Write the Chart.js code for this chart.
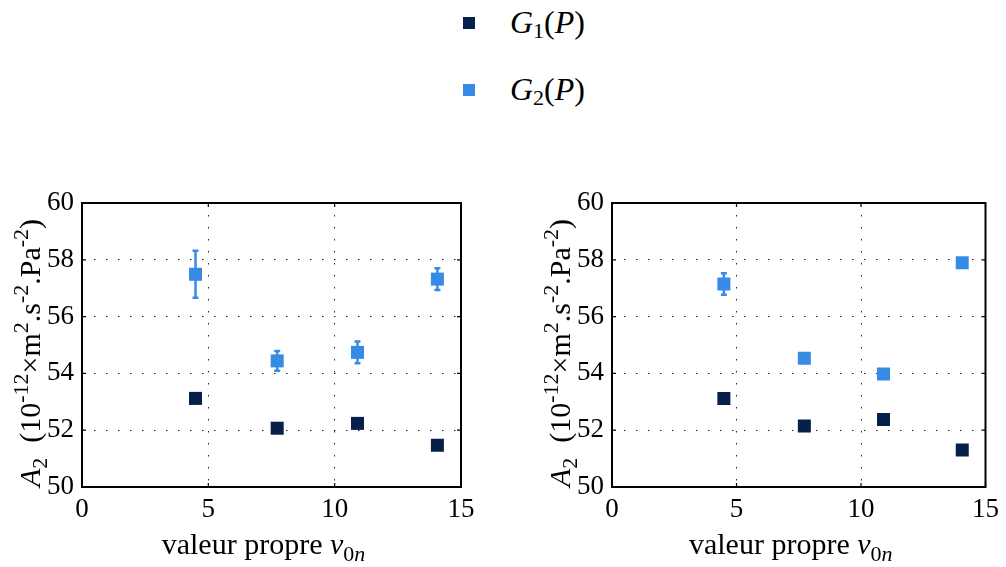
<!DOCTYPE html>
<html>
<head>
<meta charset="utf-8">
<script src="https://cdn.jsdelivr.net/npm/chart.js@4"></script>
<style>
  body { margin: 0; background: #fff; width: 1006px; height: 567px; overflow: hidden; position: relative; }
  .box { position: absolute; top: 0; width: 503px; height: 567px; }
  #legend { position: absolute; left: 0; top: 0; width: 1006px; height: 130px; font-family: "Liberation Serif", "DejaVu Serif", serif; font-size: 32px; }
  .item { position: absolute; left: 463px; height: 40px; }
  .sw { position: absolute; left: 0; width: 12px; height: 12px; }
  .lab { position: absolute; left: 47px; white-space: nowrap; line-height: 1; }
  .lab sub { font-size: 22px; font-style: normal; vertical-align: -5px; }
</style>
</head>
<body>
<div id="legend">
  <div class="item" style="top:17px"><div class="sw" style="background:#06204a;top:0"></div><div class="lab" style="top:-11px"><i>G</i><sub>1</sub>(<i>P</i>)</div></div>
  <div class="item" style="top:84px"><div class="sw" style="background:#368ce5;top:0"></div><div class="lab" style="top:-11px"><i>G</i><sub>2</sub>(<i>P</i>)</div></div>
</div>
<div class="box" style="left:0"><canvas id="left"></canvas></div>
<div class="box" style="left:503px"><canvas id="right"></canvas></div>
<script>
// eigenvalues nu_0n (x positions)
const nu = [4.493, 7.725, 10.904, 14.066];
const xTicks = [0, 5, 10, 15];
const yTicks = [50, 52, 54, 56, 58, 60];

// left panel
const leftG1 = [53.12, 52.07, 52.24, 51.47];
const leftG2 = [57.49, 54.44, 54.74, 57.32];
const leftG2Err = [0.83, 0.35, 0.38, 0.38];

// right panel
const rightG1 = [53.12, 52.15, 52.38, 51.30];
const rightG2 = [57.15, 54.53, 53.98, 57.90];
const rightG2Err = [0.38, 0, 0, 0];

const seriesNames = ["G1(P)", "G2(P)"];
const colG1 = "#06204a";
const colG2 = "#368ce5";
const SERIF = '"Liberation Serif", "DejaVu Serif", serif';

const pts = (xs, ys) => xs.map((x, i) => ({ x: x, y: ys[i] }));

// draw a run of text pieces: [text, italic, shift] with shift "", "sub" or "sup"
const drawRich = (ctx, parts, x, y, size) => {
  const small = Math.round(size * 0.72);
  const fontOf = (p) =>
    `${p[1] ? "italic " : ""}${p[2] ? small : size}px ${SERIF}`;
  let total = 0;
  parts.forEach((p) => {
    ctx.font = fontOf(p);
    total += ctx.measureText(p[0]).width;
  });
  let cx = x - total / 2;
  ctx.textAlign = "left";
  ctx.textBaseline = "alphabetic";
  parts.forEach((p) => {
    ctx.font = fontOf(p);
    let dy = 0;
    if (p[2] === "sub") dy = size * 0.22;
    if (p[2] === "sup") dy = -size * 0.4;
    ctx.fillText(p[0], cx, y + dy);
    cx += ctx.measureText(p[0]).width;
  });
};

const xTitle = [
  ["valeur propre ", false, ""],
  ["ν", true, ""],
  ["0", false, "sub"],
  ["n", true, "sub"],
];
const yTitle = [
  ["A", true, ""],
  ["2", false, "sub"],
  ["  (10", false, ""],
  ["-12", false, "sup"],
  ["×m", false, ""],
  ["2", false, "sup"],
  [".s", false, ""],
  ["-2", false, "sup"],
  [".Pa", false, ""],
  ["-2", false, "sup"],
  [")", false, ""],
];

const errorBars = {
  id: "errorBars",
  beforeDatasetsDraw(chart) {
    const ctx = chart.ctx;
    const ys = chart.scales.y;
    chart.data.datasets.forEach((ds, di) => {
      if (!ds.errors) return;
      const meta = chart.getDatasetMeta(di);
      ctx.save();
      ctx.strokeStyle = ds.backgroundColor;
      ctx.lineWidth = 2.5;
      meta.data.forEach((el, i) => {
        const e = ds.errors[i];
        if (!e) return;
        const v = ds.data[i].y;
        const top = ys.getPixelForValue(v + e);
        const bot = ys.getPixelForValue(v - e);
        ctx.beginPath();
        ctx.moveTo(el.x, top);
        ctx.lineTo(el.x, bot);
        ctx.moveTo(el.x - 3, top);
        ctx.lineTo(el.x + 3, top);
        ctx.moveTo(el.x - 3, bot);
        ctx.lineTo(el.x + 3, bot);
        ctx.stroke();
      });
      ctx.restore();
    });
  },
};

const frame = {
  id: "frame",
  afterDraw(chart) {
    const ctx = chart.ctx;
    const a = chart.chartArea;
    const xs = chart.scales.x;
    const ys = chart.scales.y;
    ctx.save();
    ctx.strokeStyle = "#000";
    ctx.lineWidth = 1.2;
    ctx.beginPath();
    yTicks.forEach((v) => {
      const py = ys.getPixelForValue(v);
      ctx.moveTo(a.left, py);
      ctx.lineTo(a.left + 4, py);
      ctx.moveTo(a.right, py);
      ctx.lineTo(a.right - 4, py);
    });
    xTicks.forEach((v) => {
      const px = xs.getPixelForValue(v);
      ctx.moveTo(px, a.bottom);
      ctx.lineTo(px, a.bottom - 4);
      ctx.moveTo(px, a.top);
      ctx.lineTo(px, a.top + 4);
    });
    ctx.stroke();
    ctx.lineWidth = 2;
    ctx.strokeRect(a.left, a.top, a.right - a.left, a.bottom - a.top);
    ctx.fillStyle = "#000";
    drawRich(ctx, xTitle, (a.left + a.right) / 2 - 8, 554, 30);
    ctx.translate(a.left - 42, (a.top + a.bottom) / 2 + 8);
    ctx.rotate(-Math.PI / 2);
    drawRich(ctx, yTitle, 0, 0, 30);
    ctx.restore();
  },
};

const makeChart = (id, g1, g2, g2Err, yWidth, rightPad) => {
  return new Chart(document.getElementById(id), {
    type: "scatter",
    data: {
      datasets: [
        {
          label: seriesNames[0],
          data: pts(nu, g1),
          backgroundColor: colG1,
          borderWidth: 0,
          pointStyle: "rect",
          pointRadius: 9.2,
        },
        {
          label: seriesNames[1],
          data: pts(nu, g2),
          errors: g2Err,
          backgroundColor: colG2,
          borderWidth: 0,
          pointStyle: "rect",
          pointRadius: 9.2,
        },
      ],
    },
    options: {
      responsive: false,
      animation: false,
      events: [],
      layout: { padding: { top: 203, left: 0, right: rightPad, bottom: 0 } },
      plugins: { legend: { display: false }, tooltip: { enabled: false } },
      scales: {
        x: {
          type: "linear",
          min: 0,
          max: 15,
          afterFit: (s) => {
            s.height = 80;
          },
          afterBuildTicks: (s) => {
            s.ticks = xTicks.map((v) => ({ value: v }));
          },
          ticks: {
            color: "#000",
            padding: 7,
            font: { family: SERIF, size: 27 },
            maxRotation: 0,
          },
          grid: { color: "#222", lineWidth: 1, drawTicks: false },
          border: { display: false, dash: [1.5, 10.5] },
        },
        y: {
          type: "linear",
          min: 50,
          max: 60,
          afterFit: (s) => {
            s.width = yWidth;
          },
          afterBuildTicks: (s) => {
            s.ticks = yTicks.map((v) => ({ value: v }));
          },
          ticks: {
            color: "#000",
            padding: 8,
            font: { family: SERIF, size: 27 },
          },
          grid: { color: "#222", lineWidth: 1, drawTicks: false },
          border: { display: false, dash: [1.5, 10.5] },
        },
      },
    },
    plugins: [errorBars, frame],
  });
};

document.getElementById("left").width = 503;
document.getElementById("left").height = 567;
document.getElementById("right").width = 503;
document.getElementById("right").height = 567;

makeChart("left", leftG1, leftG2, leftG2Err, 82, 42);
makeChart("right", rightG1, rightG2, rightG2Err, 109, 16);
</script>
</body>
</html>
